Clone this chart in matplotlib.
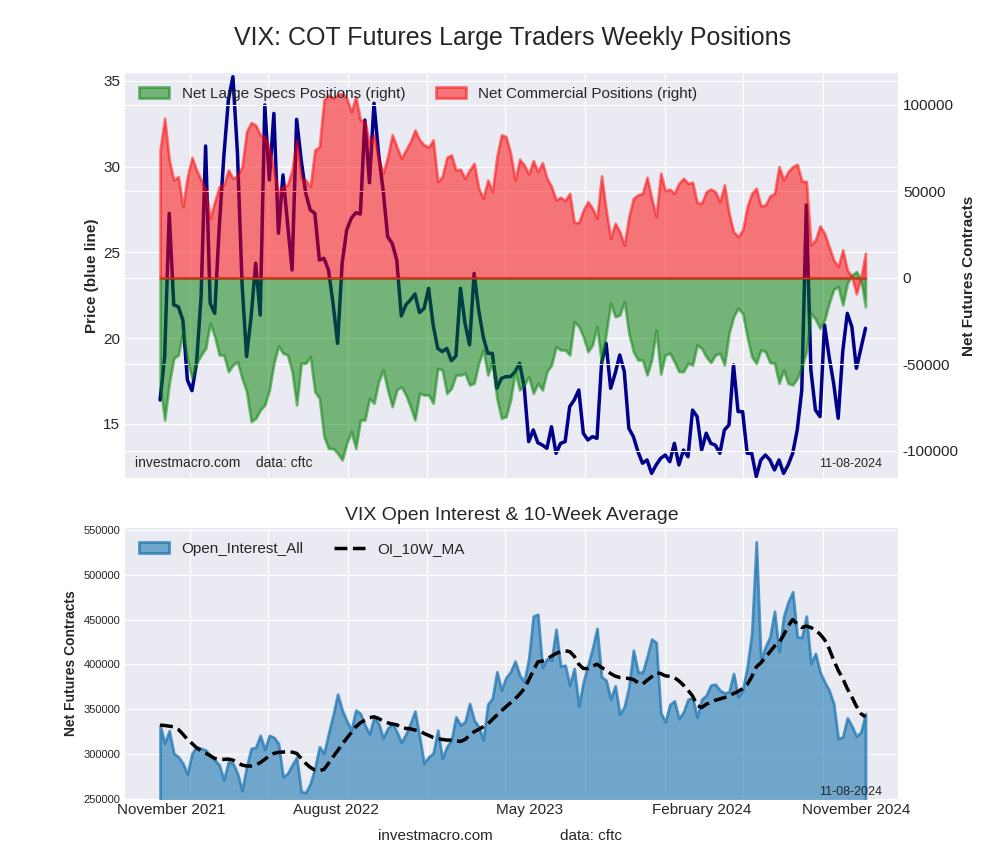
import numpy as np
import pandas as pd
import matplotlib
matplotlib.use("Agg")
import matplotlib.pyplot as plt
import matplotlib.dates as mdates
from matplotlib.ticker import FixedLocator, FixedFormatter, NullFormatter

plt.style.use('seaborn-v0_8-darkgrid')
plt.rcParams['font.family'] = ['Liberation Sans', 'DejaVu Sans']
plt.rcParams['axes.unicode_minus'] = False

# ---------------- data ----------------
dates = pd.date_range('2021-11-16', periods=156, freq='7D')

vix_price = [
    16.40, 18.93, 27.28, 21.94, 21.84, 21.06, 17.56, 16.94, 18.54, 22.42,
    31.21, 22.03, 21.45, 26.50, 30.59, 33.89, 35.25, 30.78, 23.20, 18.93,
    21.26, 24.37, 21.35, 33.60, 29.23, 33.11, 26.12, 29.52, 26.70, 23.98,
    32.76, 30.39, 28.45, 27.48, 27.28, 24.56, 24.66, 23.98, 22.03,
    19.70, 24.37, 26.31, 26.99, 27.32, 27.24, 32.72, 29.07, 33.70, 30.78,
    28.64, 25.92, 25.53, 24.56, 21.30, 21.94, 22.23, 22.58, 21.49, 21.74,
    22.91, 20.77, 19.41, 19.22, 19.41, 18.69, 18.96, 22.91, 20.87, 19.61,
    23.78, 21.65, 20.09, 19.12, 19.12, 17.08, 17.66, 17.76,
    17.76, 18.05, 18.54, 17.18, 13.97, 14.65, 13.91, 13.77, 13.58, 14.84,
    13.29, 13.87, 13.97, 16.01, 16.40, 16.98, 14.45, 14.07, 14.26, 14.16,
    18.54, 19.70, 17.08, 17.95, 19.02, 18.05, 14.75, 14.26, 13.39, 12.71,
    12.90, 12.12, 12.61, 13.00, 13.19, 12.80, 13.87, 12.61,
    13.48, 13.09, 15.81, 15.43, 13.48, 14.46, 13.87, 13.77, 13.29, 14.65,
    14.94, 18.44, 15.72, 15.72, 13.29, 13.29, 11.93, 12.90, 13.19, 12.90,
    12.32, 12.90, 12.12, 12.61, 13.29, 14.65, 16.98, 27.77, 18.15, 15.81,
    15.43, 20.77, 18.93, 17.37, 15.33, 19.22, 21.45, 20.67, 18.24, 19.41,
    20.58,
]

net_large_specs_k = [
    -61.8, -82.1, -60.9, -46.4, -44.5, -31.0, -47.4, -58.0, -49.3, -44.5,
    -40.7, -26.2, -33.9, -44.5, -44.5, -54.1, -50.3, -48.4, -58.0, -65.7,
    -83.0, -81.1, -76.3, -73.4, -64.7, -49.3, -39.3, -43.5, -44.5, -54.1,
    -73.4, -49.3, -49.3, -45.5, -65.7, -69.6, -91.7, -98.5, -98.5,
    -101.3, -105.2, -95.6, -88.8, -98.5, -82.1, -82.1, -69.6, -72.4, -59.9,
    -53.2, -64.7, -74.4, -64.7, -62.8, -67.6, -74.4, -82.1, -66.7, -67.6,
    -67.6, -72.4, -52.2, -53.2, -66.7, -63.8, -56.1, -56.1, -55.1, -61.8,
    -60.9, -49.3, -41.6, -56.1, -48.4, -69.6, -81.1, -80.2,
    -70.5, -54.1, -64.7, -61.8, -57.0, -66.7, -60.9, -64.7, -54.1, -50.3,
    -39.7, -41.6, -41.6, -44.5, -25.2, -28.1, -33.9, -42.6, -38.7, -28.1,
    -49.3, -32.0, -14.6, -22.4, -21.4, -13.7, -32.0, -42.6, -47.4, -47.4,
    -56.1, -47.4, -30.1, -55.5, -44.5, -43.5, -48.4, -54.1,
    -54.1, -49.3, -50.3, -38.7, -40.7, -45.5, -48.9, -44.5, -43.5, -50.3,
    -32.0, -22.4, -17.5, -20.4, -33.9, -45.5, -49.3, -41.6, -42.6, -48.9,
    -49.3, -60.9, -53.2, -60.9, -61.8, -58.0, -51.3, -42.6, -20.4, -23.9,
    -29.1, -24.3, -14.6, -6.6, -5.0, -15.6, -3.1, 1.7, 3.7, -1.2,
    -16.6,
]

net_commercial_k = [
    74.0, 92.3, 68.2, 56.6, 58.6, 41.2, 58.6, 69.7, 62.4, 56.6,
    50.9, 34.5, 44.1, 52.8, 53.8, 62.4, 57.6, 59.0, 64.4, 84.6,
    89.8, 88.4, 82.7, 81.7, 75.0, 62.4, 48.9, 52.8, 53.8, 62.4,
    79.8, 57.6, 56.6, 52.8, 74.0, 75.9, 102.9, 105.8, 103.9,
    105.8, 106.7, 103.9, 96.1, 104.8, 91.3, 90.4, 77.8, 82.7, 69.2,
    60.5, 70.1, 82.7, 75.9, 69.2, 74.0, 78.8, 85.5, 79.8, 76.9,
    75.5, 79.8, 55.7, 58.6, 69.7, 71.1, 62.4, 62.8, 57.6, 62.4,
    66.3, 51.8, 46.1, 56.6, 49.9, 70.1, 82.7, 81.7,
    72.1, 56.6, 68.6, 65.3, 60.1, 67.8, 61.5, 66.7, 57.6, 52.8,
    45.1, 46.6, 44.7, 48.9, 32.0, 32.0, 39.3, 44.1, 40.3, 34.5,
    59.0, 39.3, 22.9, 31.6, 26.8, 19.1, 35.5, 46.1, 48.0, 48.9,
    58.2, 46.1, 35.5, 60.5, 50.5, 51.3, 48.9, 54.7,
    57.6, 54.7, 55.3, 43.5, 43.2, 49.9, 51.4, 49.9, 44.1, 53.8,
    37.4, 26.8, 23.9, 27.7, 41.2, 48.9, 51.8, 41.6, 42.2, 47.4,
    48.9, 64.4, 56.6, 61.5, 64.4, 65.7, 56.1, 55.7, 19.1, 22.0,
    30.1, 25.8, 18.1, 10.4, 6.6, 16.2, 4.6, 0.8, -9.2, 0.4,
    14.3,
]

open_interest_k = [
    332.4, 312.0, 326.1, 300.9, 297.1, 289.7, 277.5, 300.9, 308.3, 306.4,
    304.6, 299.0, 293.4, 287.9, 271.2, 291.6, 289.7, 278.6, 259.3, 286.0,
    306.4, 307.5, 320.9, 305.3, 320.9, 318.7, 312.0, 274.9, 278.6, 287.9,
    296.4, 258.2, 257.1, 267.4, 284.2, 308.3, 300.9, 323.1, 343.5, 366.9,
    349.1, 337.2, 326.8, 349.1, 345.4, 332.4, 322.4, 340.9, 334.3, 318.3,
    328.7, 335.0, 325.0,
    313.1, 322.4, 334.3, 348.0, 319.4, 289.7, 297.1, 300.9, 326.8, 295.3,
    308.3, 315.7, 341.7, 332.4, 336.1, 356.5, 338.0, 330.6, 315.7, 355.8,
    362.1, 391.8, 371.4, 385.5, 391.8, 403.7, 388.1, 380.7, 406.6, 453.8,
    456.0, 396.6, 406.6, 404.8, 439.3, 398.1, 399.2, 377.0, 395.5, 353.6,
    380.7, 399.2, 417.8, 440.1, 386.2, 382.5, 361.4, 376.2, 344.7, 352.8,
    375.1,
    415.9, 391.7, 391.0, 408.5, 428.2, 424.5, 346.3, 335.9, 355.3, 359.4,
    339.7, 347.1, 361.2, 362.7, 341.5, 361.2, 365.7, 376.9, 378.0, 371.3,
    368.3, 369.4, 389.9, 363.8, 371.3, 397.3, 434.5, 536.8, 404.8, 419.6,
    430.8, 459.4, 414.1, 453.1, 469.9, 481.0, 430.8, 430.0, 453.9, 401.0,
    412.2, 391.7, 380.6, 371.3, 356.4, 317.3, 319.2, 340.4, 331.5, 319.9,
    324.8, 345.2,
]

oi_10w_ma_k = [
    332.4, 332.0, 331.3, 330.5, 327.6, 322.4, 316.4, 312.0, 307.2, 303.8,
    301.2, 298.3, 295.3, 294.2, 294.2, 294.5, 293.4, 290.5, 287.9, 286.8,
    286.8, 287.9, 290.5, 294.2, 298.3, 300.9, 302.0, 302.3, 302.7, 302.3,
    300.9, 295.3, 289.7, 285.3, 282.3, 281.6, 283.0, 289.7, 297.1, 303.8,
    311.2, 317.6, 323.9, 330.5, 335.0, 338.0, 340.6, 341.7, 339.8, 336.9,
    335.0, 333.5, 332.8,
    329.4, 328.7, 328.3, 326.8, 326.1, 323.1, 320.9, 318.7, 317.2, 316.4,
    315.7, 315.7, 315.0, 314.2, 316.4, 320.9, 325.0, 327.6, 330.5, 333.5,
    338.7, 343.5, 348.4, 352.8, 357.3, 361.7, 366.9, 372.9, 382.5, 392.9,
    402.9, 403.7, 406.3, 409.2, 412.2, 414.4, 415.2, 414.4, 409.2, 400.3,
    395.5, 395.5, 398.1, 400.3, 396.6, 393.7, 389.9, 387.0, 385.5, 384.7,
    384.4,
    383.2, 379.8, 378.0, 382.4, 386.2, 390.6, 389.9, 387.3, 386.9, 385.4,
    381.7, 376.9, 371.3, 364.9, 354.5, 351.9, 355.6, 357.9, 360.1, 361.6,
    363.1, 364.9, 367.6, 369.8, 373.1, 377.6, 386.2, 397.3, 401.8, 407.7,
    414.1, 420.4, 424.1, 432.7, 442.7, 450.1, 444.9, 441.2, 442.7, 441.2,
    438.2, 433.8, 427.8, 417.8, 404.8, 393.6, 384.3, 373.1, 363.8, 353.4,
    345.2, 341.5,
]

bottom_tick_dates = ['2021-12-03', '2022-08-13', '2023-06-08', '2024-02-27', '2024-10-21']
bottom_tick_labels = ['November 2021', 'August 2022', 'May 2023', 'February 2024', 'November 2024']

specs = np.array(net_large_specs_k) * 1000
comm = np.array(net_commercial_k) * 1000
oi = np.array(open_interest_k) * 1000
oi_ma = np.array(oi_10w_ma_k) * 1000
price = np.array(vix_price)

# ---------------- figure ----------------
fig = plt.figure(figsize=(10, 8.6), dpi=100)
xlim = (dates[0] - pd.Timedelta(days=54), dates[-1] + pd.Timedelta(days=50))
grid_loc = mdates.MonthLocator(bymonth=[1, 5, 9])

fig.text(0.513, 0.956, 'VIX: COT Futures Large Traders Weekly Positions',
         ha='center', va='center', fontsize=18)

# top panel
ax1 = fig.add_axes([0.125, 0.4442, 0.773, 0.471])
ax1.plot(dates, price, color='#00008B', lw=2.5)
ax1.set_ylim(11.85, 35.47)
ax1.set_yticks([15, 20, 25, 30, 35])
ax1.set_xlim(xlim)
ax1.xaxis.set_major_locator(grid_loc)
ax1.xaxis.set_major_formatter(NullFormatter())
ax1.tick_params(axis='y', labelsize=11)
ax1.set_ylabel('Price (blue line)', fontweight='bold', fontsize=11, labelpad=3)

ax2 = ax1.twinx()
ax2.fill_between(dates, 0, specs, color='green', alpha=0.5, lw=2,
                 label='Net Large Specs Positions (right)')
ax2.fill_between(dates, 0, comm, color='red', alpha=0.5, lw=2,
                 label='Net Commercial Positions (right)')
ax2.set_ylim(-115600, 118500)
ax2.set_yticks([-100000, -50000, 0, 50000, 100000])
ax2.set_xlim(xlim)
ax2.tick_params(axis='y', labelsize=11)
ax2.set_ylabel('Net Futures Contracts', fontweight='bold', fontsize=11, labelpad=2)
ax2.legend(loc='upper left', ncol=2, fontsize=11, frameon=False)
ax2.text(0.013, 0.02, 'investmacro.com    data: cftc', transform=ax2.transAxes,
         fontsize=10, ha='left', va='bottom')
ax2.text(0.98, 0.02, '11-08-2024', transform=ax2.transAxes,
         fontsize=9, ha='right', va='bottom')

# bottom panel
ax3 = fig.add_axes([0.125, 0.0709, 0.773, 0.315])
ax3.fill_between(dates, 0, oi, facecolor=(0.122, 0.467, 0.706, 0.6),
                 edgecolor=(0.122, 0.467, 0.706, 0.75), lw=2, label='Open_Interest_All')
ax3.plot(dates, oi_ma, color='black', ls='--', lw=2.5, label='OI_10W_MA')
ax3.set_ylim(250000, 552000)
ax3.set_yticks(np.arange(250000, 550001, 50000))
ax3.set_xlim(xlim)
ax3.xaxis.set_major_locator(grid_loc)
ax3.xaxis.set_major_formatter(NullFormatter())
ax3.xaxis.set_minor_locator(FixedLocator(mdates.date2num(pd.to_datetime(bottom_tick_dates))))
ax3.xaxis.set_minor_formatter(FixedFormatter(bottom_tick_labels))
ax3.tick_params(axis='x', which='minor', labelsize=11, length=0, pad=3)
ax3.tick_params(axis='y', labelsize=8)
ax3.grid(False, which='minor')
ax3.set_ylabel('Net Futures Contracts', fontweight='bold', fontsize=10, labelpad=4)
ax3.set_title('VIX Open Interest & 10-Week Average', fontsize=14, pad=6)
ax3.legend(loc='upper left', ncol=2, fontsize=11, frameon=False)
ax3.text(0.98, 0.005, '11-08-2024', transform=ax3.transAxes,
         fontsize=9, ha='right', va='bottom')

fig.text(0.378, 0.028, 'investmacro.com', fontsize=11, ha='left', va='center')
fig.text(0.560, 0.028, 'data: cftc', fontsize=11, ha='left', va='center')

fig.savefig('out.png', dpi=100)
